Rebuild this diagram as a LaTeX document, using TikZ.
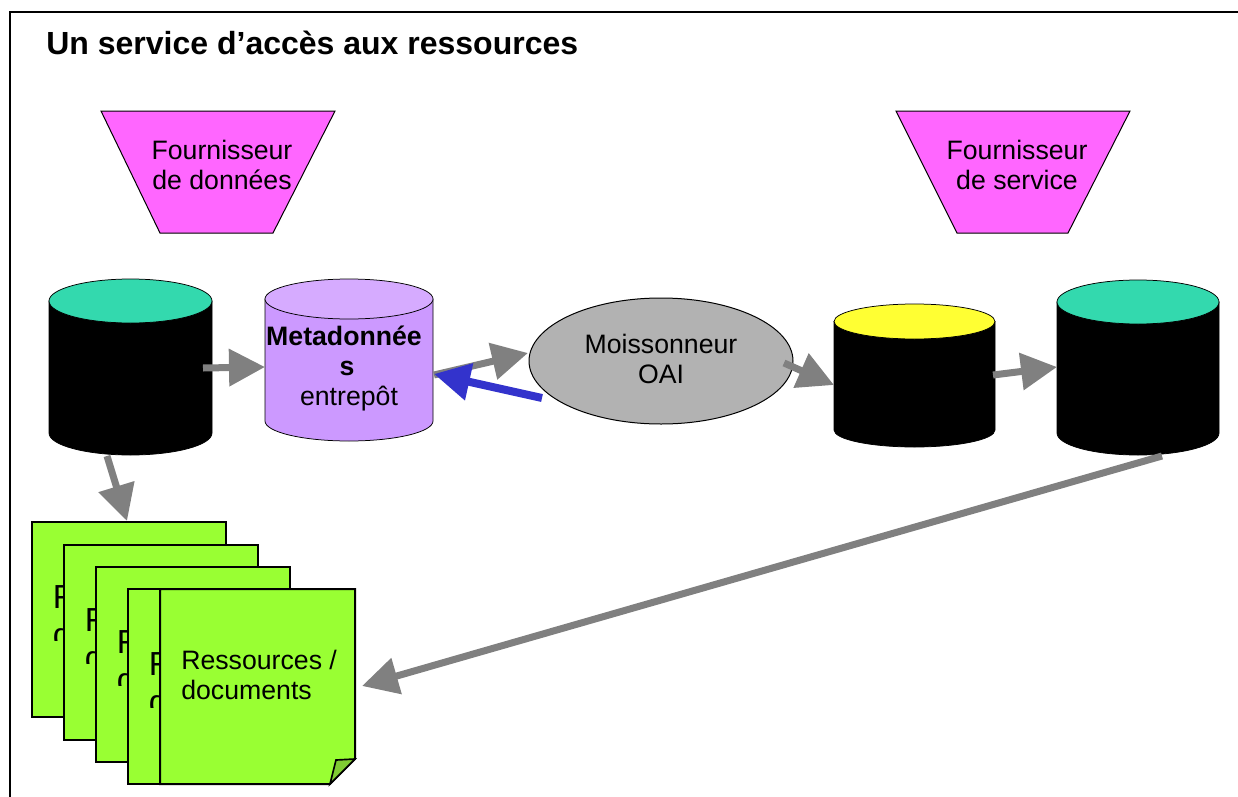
\documentclass[tikz,border=0pt]{standalone}
\usepackage{fontspec}
\setmainfont{Liberation Sans}
\usetikzlibrary{arrows.meta,shapes.geometric}
\definecolor{rosa}{HTML}{FF66FF}
\definecolor{vertdb}{HTML}{33D9AE}
\definecolor{mauve}{HTML}{CC99FF}
\definecolor{mauveclair}{HTML}{D6ABFF}
\definecolor{jaune}{HTML}{FFFF33}
\definecolor{gris}{HTML}{B2B2B2}
\definecolor{fleche}{HTML}{808080}
\definecolor{bleu}{HTML}{3333CC}
\definecolor{vertdoc}{HTML}{99FF33}
\definecolor{pli}{HTML}{80CC33}
\begin{document}
\begin{tikzpicture}[x=0.6pt,y=-0.6pt,
    fournisseur/.style={draw,line width=0.6pt,fill=rosa},
    base/.style={draw,line width=0.45pt},
    page/.style={draw,line width=1.2pt,fill=vertdoc,anchor=north west,minimum width=116.4pt,minimum height=117pt,inner sep=0pt,outer sep=0pt},
    pagetexte/.style={anchor=north west,align=left,inner sep=0pt,font=\fontsize{20}{22.8}\selectfont},
    fgris/.style={-{Triangle[length=21.6pt,width=21.6pt]},line width=4.2pt,draw=fleche},
    fbleu/.style={-{Triangle[length=21.6pt,width=21.6pt]},line width=4.8pt,draw=bleu},
    texte/.style={align=center,inner sep=0pt,font=\fontsize{16}{17.6}\selectfont}]
    \useasboundingbox (0,0) rectangle (1238,796);
    % Cadre
    \draw[line width=1.2pt] (1250,12) -- (10,12) -- (10,810);
    \node[anchor=base west,inner sep=0pt,font=\fontsize{19.2}{22}\selectfont\bfseries] (titre) at (46,55) {Un service d’accès aux ressources};
    % Fournisseurs
    \draw[fournisseur] (101,111) -- (335,111) -- (273,233) -- (160,233) -- cycle;
    \node[texte] (fdtexte) at (222,165) {Fournisseur\\de données};
    \draw[fournisseur] (896,111) -- (1130,111) -- (1068,233) -- (957,233) -- cycle;
    \node[texte] (fstexte) at (1017,165) {Fournisseur\\de service};
    % Bases
    \draw[base,fill=black] (49,301) -- (49,433) arc[start angle=180,end angle=0,x radius=81.5,y radius=22] -- (212,301) -- cycle;
    \draw[base,fill=vertdb] (130.5,301) ellipse[x radius=81.5,y radius=22];
    \draw[base,fill=mauve] (265,299) -- (265,421) arc[start angle=180,end angle=0,x radius=84,y radius=20] -- (433,299) -- cycle;
    \draw[base,fill=mauveclair] (349,299) ellipse[x radius=84,y radius=20];
    \node[texte,font=\fontsize{16}{18}\selectfont] (entrepot) at (349,368) {\textbf{Metadonnée}\hspace{6pt}\mbox{}\\\textbf{s}\hspace{2.4pt}\mbox{}\\entrepôt};
    \draw[base,fill=black] (834,321.5) -- (834,430) arc[start angle=180,end angle=0,x radius=80.5,y radius=17] -- (995,321.5) -- cycle;
    \draw[base,fill=jaune] (914.5,321.5) ellipse[x radius=80.5,y radius=17.5];
    \draw[base,fill=black] (1057,302) -- (1057,433) arc[start angle=180,end angle=0,x radius=81,y radius=22] -- (1219,302) -- cycle;
    \draw[base,fill=vertdb] (1138,302) ellipse[x radius=81,y radius=22];
    % Moissonneur
    \node[draw,line width=0.6pt,fill=gris,ellipse,minimum width=158.4pt,minimum height=75.6pt,inner sep=0pt,outer sep=0pt] (moissonneur) at (661,361) {};
    \node[texte] (moissonneurtexte) at (661,359) {Moissonneur\\OAI};
    % Pages
    \node[page] (page1) at (32,522) {};
    \begin{scope}
        \clip (32,522) rectangle (226,640);
        \node[pagetexte] (texte1) at (52.5,584) {Ressources /\\documents};
    \end{scope}
    \node[page] (page2) at (64,545) {};
    \begin{scope}
        \clip (64,545) rectangle (258,663);
        \node[pagetexte] (texte2) at (84.5,607) {Ressources /\\documents};
    \end{scope}
    \node[page] (page3) at (96,567) {};
    \begin{scope}
        \clip (96,567) rectangle (290,685);
        \node[pagetexte] (texte3) at (116.5,629) {Ressources /\\documents};
    \end{scope}
    \node[page] (page4) at (128,589) {};
    \begin{scope}
        \clip (128,589) rectangle (322,707);
        \node[pagetexte] (texte4) at (148.5,651) {Ressources /\\documents};
    \end{scope}
    \draw[line width=1.2pt,fill=vertdoc] (160,589) -- (355,589) -- (355,759) -- (330,784) -- (160,784) -- cycle;
    \draw[line width=1pt,fill=pli] (330,784) -- (336,760) -- (355,759) -- cycle;
    \node[anchor=north west,align=left,inner sep=0pt,font=\fontsize{16}{18}\selectfont] (page5) at (181,650) {Ressources /\\documents};
    % Fleches
    \coordinate (f1) at (203,368);
    \coordinate (f1b) at (265,367);
    \coordinate (f2) at (434,375);
    \coordinate (f2b) at (528,353);
    \coordinate (f3) at (542,398);
    \coordinate (f3b) at (434,374);
    \coordinate (f4) at (784,363);
    \coordinate (f4b) at (834,385);
    \coordinate (f5) at (993,375);
    \coordinate (f5b) at (1057,367);
    \coordinate (f6) at (1162,456);
    \coordinate (f6b) at (362,686);
    \coordinate (f7) at (107,456);
    \coordinate (f7b) at (127,521);
    \draw[fgris] (f1) -- (f1b);
    \draw[fgris] (f2) -- (f2b);
    \draw[fbleu] (f3) -- (f3b);
    \draw[fgris] (f4) -- (f4b);
    \draw[fgris] (f5) -- (f5b);
    \draw[fgris] (f6) -- (f6b);
    \draw[fgris] (f7) -- (f7b);
\end{tikzpicture}
\end{document}
